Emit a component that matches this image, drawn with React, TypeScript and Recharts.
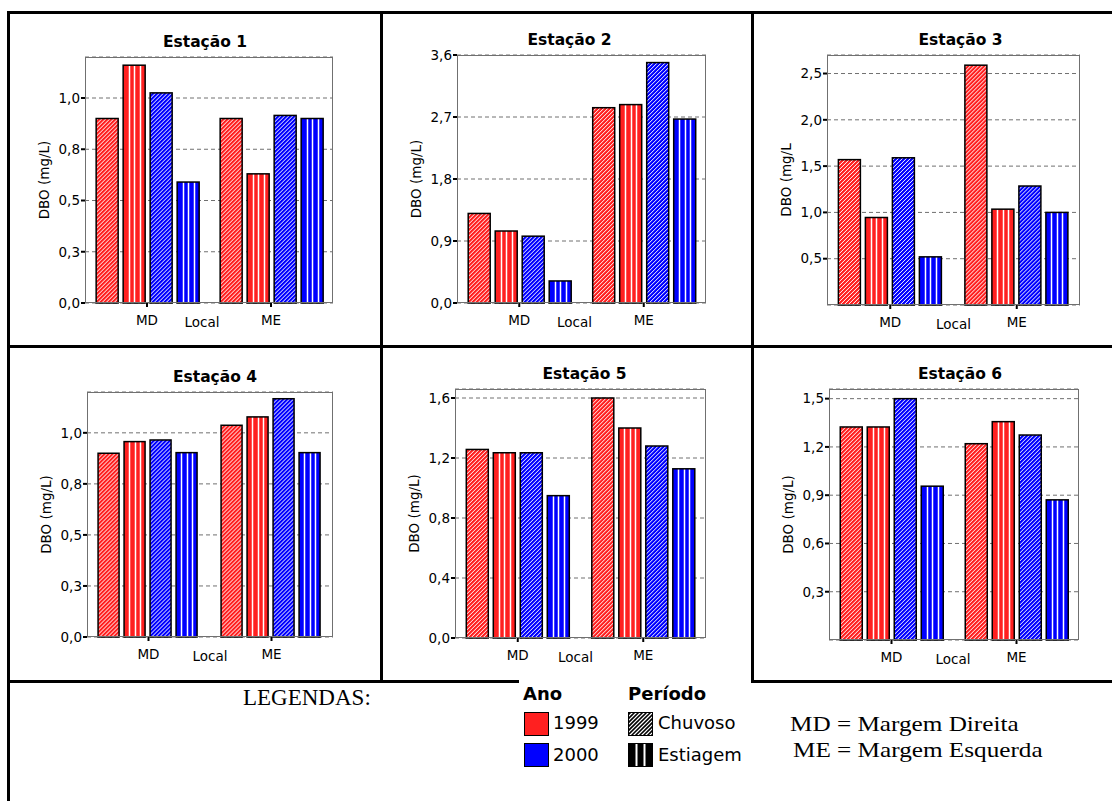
import { BarChart, Bar, XAxis, YAxis, CartesianGrid } from "recharts";

const LOCAIS = ["MD", "ME"];
const ESTACOES = ["Estação 1", "Estação 2", "Estação 3", "Estação 4", "Estação 5", "Estação 6"];
const Y_TITLES = ["DBO (mg/L)", "DBO (mg/L)", "DBO (mg/L", "DBO (mg/L)", "DBO (mg/L)", "DBO (mg/L)"];

// DBO (mg/L) per station, [MD, ME]
const CHUVOSO_1999 = [[0.9, 0.9], [1.3, 2.835], [1.57, 2.59], [0.9, 1.037], [1.257, 1.6], [1.324, 1.22]];
const ESTIAGEM_1999 = [[1.16, 0.63], [1.045, 2.88], [0.945, 1.035], [0.957, 1.078], [1.235, 1.4], [1.324, 1.357]];
const CHUVOSO_2000 = [[1.025, 0.915], [0.97, 3.49], [1.59, 1.285], [0.965, 1.167], [1.235, 1.28], [1.5, 1.274]];
const ESTIAGEM_2000 = [[0.59, 0.9], [0.32, 2.67], [0.52, 1.0], [0.903, 0.903], [0.949, 1.128], [0.956, 0.871]];

const Y_MAX = [1.2, 3.6, 2.7, 1.2, 1.66, 1.56];
const Y_TICKS = [
  [0, 0.25, 0.5, 0.75, 1],
  [0, 0.9, 1.8, 2.7, 3.6],
  [0.5, 1, 1.5, 2, 2.5],
  [0, 0.25, 0.5, 0.75, 1],
  [0, 0.4, 0.8, 1.2, 1.6],
  [0.3, 0.6, 0.9, 1.2, 1.5],
];

// plot rectangles on the page
const PANELS = [
  { x: 85, y: 57, w: 248, h: 246, titleDx: -4, localDx: -7 },
  { x: 457, y: 55, w: 249, h: 248, titleDx: -12, localDx: -7 },
  { x: 827, y: 55, w: 253, h: 250, titleDx: 7, localDx: 0 },
  { x: 87, y: 392, w: 246, h: 245, titleDx: 5, localDx: 0 },
  { x: 455, y: 389, w: 251, h: 249, titleDx: 4, localDx: -5 },
  { x: 829, y: 389, w: 250, h: 251, titleDx: 6, localDx: -1 },
];

const RED = "#ff2020";
const BLUE = "#0000ff";
const FRAME = "#707070";
const SANS = "'DejaVu Sans', sans-serif";
const SERIF = "'Liberation Serif', 'Times New Roman', serif";

const fmt = (v: number) => v.toFixed(1).replace(".", ",");
const mod = (a: number, n: number) => ((a % n) + n) % n;

// bar with white hatching ("/" for Chuvoso, "|" for Estiagem) and black outline;
// diagonal lines are anchored to the page grid so every bar looks alike
function hatchShape(color: string, kind: "diag" | "vert", tag: string, ox: number, oy: number) {
  return (props: any) => {
    const { x, y, width, height, index } = props;
    if (!height || height <= 0) return <g />;
    const id = `clip-${tag}-${index}`;
    const lines = [];
    if (kind === "diag") {
      const base = Math.round(x + y + height + ox + oy);
      const t0 = -height - mod(base - height, 4) + 0.5;
      for (let t = t0; t < width + 1; t += 4) {
        lines.push(
          <line key={t} x1={x + t} y1={y + height} x2={x + t + height} y2={y} stroke="#fff" strokeWidth={1} />
        );
      }
    } else {
      for (let k = 1; k < 4; k++) {
        const lx = Math.round(x + (width * k) / 4) + 0.5;
        lines.push(<line key={k} x1={lx} y1={y} x2={lx} y2={y + height} stroke="#fff" strokeWidth={1.5} />);
      }
    }
    return (
      <g>
        <clipPath id={id}>
          <rect x={x} y={y} width={width} height={height} />
        </clipPath>
        <rect x={x} y={y} width={width} height={height} fill={color} />
        <g clipPath={`url(#${id})`}>{lines}</g>
        <rect x={x} y={y} width={width} height={height} fill="none" stroke="#000" strokeWidth={1.5} />
      </g>
    );
  };
}

function Panel({ i }: { i: number }) {
  const p = PANELS[i];
  const ox = p.x - 60;
  const oy = p.y - 30;
  const data = LOCAIS.map((local, k) => ({
    local,
    c1999: CHUVOSO_1999[i][k],
    e1999: ESTIAGEM_1999[i][k],
    c2000: CHUVOSO_2000[i][k],
    e2000: ESTIAGEM_2000[i][k],
  }));
  const tickStyle = { fill: "#000", fontSize: 13.5, fontFamily: SANS };
  return (
    <>
      <div
        style={{
          position: "absolute",
          left: p.x + p.w / 2 + p.titleDx,
          top: p.y - 24,
          transform: "translateX(-50%)",
          fontFamily: SANS,
          fontWeight: "bold",
          fontSize: 15.5,
          lineHeight: "18px",
          whiteSpace: "nowrap",
        }}
      >
        {ESTACOES[i]}
      </div>
      <div style={{ position: "absolute", left: ox, top: oy }}>
        <BarChart
          width={p.w + 70}
          height={p.h + 60}
          data={data}
          margin={{ top: 30, right: 10, bottom: 0, left: 0 }}
          barCategoryGap="9%"
          barGap={5}
        >
          <CartesianGrid vertical={false} stroke={FRAME} strokeDasharray="4 3" />
          <XAxis
            dataKey="local"
            height={30}
            tick={tickStyle}
            tickSize={4}
            tickMargin={8}
            tickLine={{ stroke: "#000", strokeWidth: 2 }}
            axisLine={false}
            label={{
              value: "Local",
              position: "insideBottom",
              offset: 6,
              dx: p.localDx,
              style: { fill: "#000", fontSize: 13.5, fontFamily: SANS },
            }}
          />
          <YAxis
            width={60}
            domain={[0, Y_MAX[i]]}
            ticks={Y_TICKS[i]}
            interval={0}
            tickFormatter={fmt}
            tick={tickStyle}
            tickSize={4}
            tickMargin={1}
            tickLine={{ stroke: "#000", strokeWidth: 2 }}
            axisLine={false}
            label={{
              value: Y_TITLES[i],
              angle: -90,
              position: "insideLeft",
              offset: 19,
              style: { fill: "#000", fontSize: 13.5, fontFamily: SANS, textAnchor: "middle" },
            }}
          />
          <Bar dataKey="c1999" fill={RED} shape={hatchShape(RED, "diag", `${i}a`, ox, oy)} isAnimationActive={false} />
          <Bar dataKey="e1999" fill={RED} shape={hatchShape(RED, "vert", `${i}b`, ox, oy)} isAnimationActive={false} />
          <Bar dataKey="c2000" fill={BLUE} shape={hatchShape(BLUE, "diag", `${i}c`, ox, oy)} isAnimationActive={false} />
          <Bar dataKey="e2000" fill={BLUE} shape={hatchShape(BLUE, "vert", `${i}d`, ox, oy)} isAnimationActive={false} />
        </BarChart>
      </div>
      {/* plot frame */}
      <div
        style={{
          position: "absolute",
          left: p.x,
          top: p.y,
          width: p.w,
          height: p.h,
          boxSizing: "border-box",
          border: `1px solid ${FRAME}`,
          pointerEvents: "none",
        }}
      />
    </>
  );
}

const line = (left: number, top: number, width: number, height: number) => (
  <div style={{ position: "absolute", left, top, width, height, background: "#000" }} />
);

function abs(left: number, top: number, extra: object = {}) {
  return { position: "absolute" as const, left, top, whiteSpace: "nowrap" as const, ...extra };
}

function Swatch({ fill, kind }: { fill: string; kind?: "diag" | "vert" }) {
  const w = 24;
  const h = 23;
  const lines = [];
  if (kind === "diag") {
    for (let t = -h; t < w; t += 4) {
      lines.push(<line key={t} x1={t} y1={h} x2={t + h} y2={0} stroke="#fff" strokeWidth={1.2} />);
    }
  } else if (kind === "vert") {
    lines.push(<line key={1} x1={8} y1={0} x2={8} y2={h} stroke="#fff" strokeWidth={2} />);
    lines.push(<line key={2} x1={16} y1={0} x2={16} y2={h} stroke="#fff" strokeWidth={2} />);
  }
  return (
    <svg width={w + 1} height={h + 1} style={{ display: "block", overflow: "hidden" }}>
      <g transform="translate(0.5,0.5)">
        <rect width={w} height={h} fill={fill} />
        {lines}
        <rect width={w} height={h} fill="none" stroke="#000" />
      </g>
    </svg>
  );
}

export default function App() {
  const legendText = { fontFamily: SANS, fontSize: 18, lineHeight: "20px", color: "#000" };
  const serifText = {
    fontFamily: SERIF,
    fontSize: 21,
    lineHeight: "24px",
    transform: "scaleX(1.2)",
    transformOrigin: "left center",
  };
  return (
    <div
      style={{
        position: "absolute",
        left: 0,
        top: 0,
        width: 1112,
        height: 801,
        background: "#fff",
        overflow: "hidden",
      }}
    >
      {line(7, 11, 1105, 3)}
      {line(7, 11, 3, 790)}
      {line(380, 11, 3, 672)}
      {line(751, 11, 3, 672)}
      {line(7, 345, 1105, 3)}
      {line(7, 680, 512, 3)}
      {line(751, 680, 361, 3)}

      {PANELS.map((_, i) => (
        <Panel key={i} i={i} />
      ))}

      <div style={abs(243, 685, { fontFamily: SERIF, fontSize: 23, lineHeight: "26px" })}>LEGENDAS:</div>

      <div style={abs(523, 684, { ...legendText, fontWeight: "bold" })}>Ano</div>
      <div style={abs(628, 684, { ...legendText, fontWeight: "bold" })}>Período</div>
      <div style={abs(524, 712)}>
        <Swatch fill={RED} />
      </div>
      <div style={abs(524, 743)}>
        <Swatch fill={BLUE} />
      </div>
      <div style={abs(553, 713, legendText)}>1999</div>
      <div style={abs(553, 745, legendText)}>2000</div>
      <div style={abs(628, 712)}>
        <Swatch fill="#000" kind="diag" />
      </div>
      <div style={abs(628, 743)}>
        <Swatch fill="#000" kind="vert" />
      </div>
      <div style={abs(658, 713, legendText)}>Chuvoso</div>
      <div style={abs(658, 745, legendText)}>Estiagem</div>

      <div style={abs(790, 712, serifText)}>MD = Margem Direita</div>
      <div style={abs(793, 738, serifText)}>ME = Margem Esquerda</div>
    </div>
  );
}
